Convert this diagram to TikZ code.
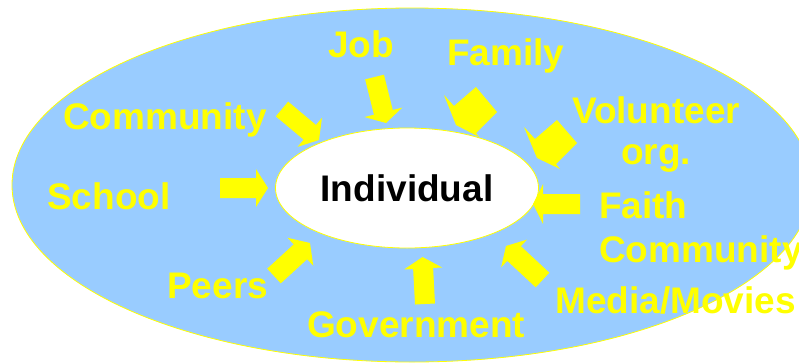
\documentclass[tikz,border=0pt]{standalone}
\usepackage{fontspec}
\setmainfont{Liberation Sans}
\usetikzlibrary{shapes.geometric,calc}
\definecolor{skyfill}{RGB}{153,204,255}
\definecolor{labelyellow}{RGB}{255,255,0}
\tikzset{
  arrowfill/.style={fill=labelyellow},
  lbl/.style={text=labelyellow, font=\fontsize{37}{41}\selectfont\bfseries, inner sep=0pt},
}
% #1 tail, #2 tip, #3 shaft half width, #4 head half width, #5 head length
\newcommand\blockarr[5]{%
  \path ($(#2)!#5!(#1)$) coordinate (hb);
  \fill[arrowfill] ($(#1)!#3!90:(#2)$) -- ($(hb)!#3!90:(#2)$) -- ($(hb)!#4!90:(#2)$)
    -- (#2) -- ($(hb)!#4!-90:(#2)$) -- ($(hb)!#3!-90:(#2)$) -- ($(#1)!#3!-90:(#2)$) -- cycle;
}
\begin{document}
\begin{tikzpicture}[x=1pt,y=-1pt]
\useasboundingbox (0,0) rectangle (799,362);
\fill[white] (0,0) rectangle (799,362);
% outer ellipse
\node[ellipse, draw=labelyellow, line width=0.8pt, fill=skyfill, inner sep=0pt,
  minimum width=800pt, minimum height=354pt] (outer) at (412,185) {};
% inner ellipse
\node[ellipse, draw=labelyellow, line width=0.8pt, fill=white, inner sep=0pt,
  minimum width=263pt, minimum height=120pt,
  font=\fontsize{37}{41}\selectfont\bfseries] (indiv) at (407,188) {Individual};

% labels
\node[lbl, anchor=base west] (job) at (328,57) {Job};
\node[lbl, anchor=base west] (family) at (447,65) {Family};
\node[lbl, anchor=base west] (community) at (63,129) {Community};
\node[lbl, anchor=north, align=center] (volunteer) at (656,96) {Volunteer\\org.};
\node[lbl, anchor=base west] (school) at (47,209) {School};
\node[lbl, anchor=north west, align=left, font=\fontsize{37}{44}\selectfont\bfseries] (faith) at (599,191) {Faith\\ Community};
\node[lbl, anchor=base west] (peers) at (167,298) {Peers};
\node[lbl, anchor=base west] (government) at (307,337) {Government};
\node[lbl, anchor=base west] (media) at (555,313) {Media/Movies};

% arrow end points
\coordinate (jobT) at (374.5,77);   \coordinate (jobP) at (386,123);
\coordinate (comT) at (282,109);    \coordinate (comP) at (319,140);
\coordinate (schT) at (220,188);    \coordinate (schP) at (268,188);
\coordinate (faiT) at (580,204);    \coordinate (faiP) at (533,204);
\coordinate (peeT) at (274,276);    \coordinate (peeP) at (310,243);
\coordinate (govT) at (425,304);    \coordinate (govP) at (422.5,257);
\coordinate (medT) at (542.5,280);  \coordinate (medP) at (506,246);

\blockarr{jobT}{jobP}{9.7pt}{19.5pt}{11pt}
\blockarr{comT}{comP}{9.6pt}{19pt}{12pt}
\blockarr{schT}{schP}{10pt}{19pt}{12pt}
\blockarr{faiT}{faiP}{10pt}{20pt}{10pt}
\blockarr{peeT}{peeP}{10pt}{19pt}{13pt}
\blockarr{govT}{govP}{10pt}{19pt}{11.5pt}
\blockarr{medT}{medP}{10pt}{19pt}{11pt}

% skewed block arrows (family, volunteer)
\fill[arrowfill] (444,95) -- (454,106) -- (476,87) -- (497,112) -- (476,133) -- (479,137) -- (456,125) -- cycle;
\fill[arrowfill] (524,127) -- (535,139) -- (557,120) -- (577,143) -- (556,164) -- (560,169) -- (537,158) -- cycle;
\end{tikzpicture}
\end{document}
